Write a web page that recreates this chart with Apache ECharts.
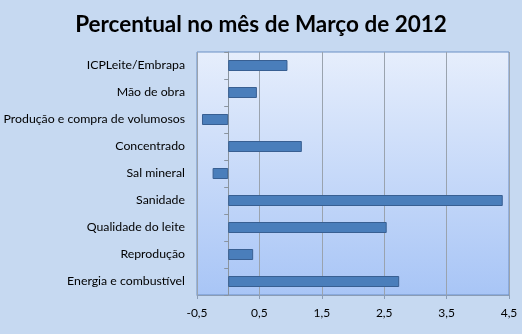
<!DOCTYPE html>
<html>
<head>
<meta charset="utf-8">
<script src="https://cdn.jsdelivr.net/npm/echarts@6/dist/echarts.min.js"></script>
<style>
html,body{margin:0;padding:0;background:#c6d9f1;}
#c{width:522px;height:334px;}
</style>
</head>
<body>
<div id="c"></div>
<script>
const titleText = 'Percentual no mês de Março de 2012';
const categories = ['ICPLeite/Embrapa','Mão de obra','Produção e compra de volumosos','Concentrado','Sal mineral','Sanidade','Qualidade do leite','Reprodução','Energia e combustível'];
const values = [0.95, 0.46, -0.42, 1.18, -0.25, 4.40, 2.54, 0.40, 2.74];
const xMin = -0.5, xMax = 4.5, xStep = 1;

const chart = echarts.init(document.getElementById('c'));
const font = 'Lato, "Open Sans", sans-serif';
chart.setOption({
  backgroundColor: '#c6d9f1',
  animation: false,
  title: {
    text: titleText, left: 'center', top: 8,
    textStyle: {fontFamily: font, fontSize: 22.5, fontWeight: 'bold', color: '#000'}
  },
  grid: {
    left: 197, right: 13, top: 52, bottom: 39,
    containLabel: false,
    outerBoundsMode: 'none',
    show: true,
    borderColor: '#6a8fc4', borderWidth: 1,
    backgroundColor: new echarts.graphic.LinearGradient(0,0,0,1,[
      {offset:0,color:'#e6eefc'},{offset:1,color:'#a8c5f6'}
    ])
  },
  xAxis: {
    type: 'value', min: xMin, max: xMax, interval: xStep,
    axisLine: {show: true, onZero: false, lineStyle: {color: '#8a9cb5'}},
    axisTick: {show: true, length: 4, lineStyle: {color: '#8a9cb5'}},
    splitLine: {show: true, lineStyle: {color: '#9aa3ae', width: 1}},
    axisLabel: {
      margin: 12, fontFamily: font, fontSize: 12, color: '#000',
      formatter: v => String(v).replace('.', ',')
    }
  },
  yAxis: {
    type: 'category', data: categories, inverse: true,
    axisLine: {show: true, onZero: true, lineStyle: {color: '#8a949f'}},
    axisTick: {show: true, length: 4, lineStyle: {color: '#8a949f'}},
    axisLabel: {margin: 12, fontFamily: font, fontSize: 12.3, color: '#000'},
    splitLine: {show: false}
  },
  series: [{
    type: 'bar', data: values, barWidth: 11,
    itemStyle: {color: '#4a7ebb', borderColor: '#385f92', borderWidth: 1}
  }]
});
</script>
</body>
</html>
